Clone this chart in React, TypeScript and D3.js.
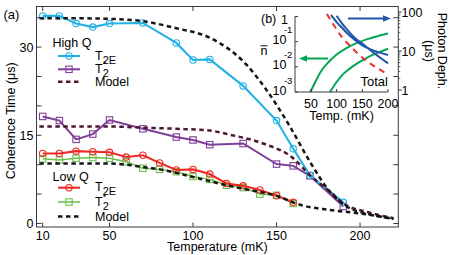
import React from 'react';
import * as d3 from 'd3';

const W = 467;
const H = 255;
const FONT = '"Liberation Sans", Arial, Helvetica, sans-serif';

// panel (a) data, temperatures in mK, times in us
const highTemps = [10, 20, 30, 40, 50, 70, 90, 100, 110, 130, 150, 160, 170, 190];
const highT2E = [35.3, 35.3, 34.0, 33.4, 34.0, 34.1, 30.7, 27.8, 27.9, 23.4, 17.5, 12.7, 8.2, 3.6];
const highT2star = [18.2, 17.5, 14.3, 15.2, 17.6, 16.1, 14.7, 14.2, 13.4, 13.6, 10.1, 9.8, 8.1, 2.9];

const lowTemps = [10, 20, 30, 40, 50, 60, 70, 80, 90, 100, 110, 120, 130, 140, 150, 160];
const lowT2E = [11.9, 11.9, 12.3, 12.2, 12.1, 11.3, 11.6, 10.3, 9.1, 9.2, 8.4, 6.8, 6.4, 5.7, 4.7, 3.6];
const lowT2star = [11.0, 10.8, 11.1, 11.2, 11.1, 10.5, 9.4, 9.2, 8.8, 8.0, 7.5, 6.5, 6.1, 5.0, 4.8, 3.4];

const highModelTemps = [8, 30, 50, 70, 90, 110, 132, 144, 158, 170, 182, 192, 205, 220];
const highModelVals = [34.9, 34.9, 34.8, 34.4, 33.2, 31.6, 27.0, 22.7, 16.5, 10.5, 5.4, 2.9, 1.6, 0.8];
const starModelTemps = [8, 50, 70, 90, 110, 122, 142, 160, 170, 182, 190, 205, 220];
const starModelVals = [16.5, 16.5, 16.3, 16.1, 15.8, 15.1, 13.6, 11.1, 8.2, 5.4, 3.4, 1.9, 0.9];
const lowModelTemps = [8, 50, 60, 70, 80, 90, 100, 110, 120, 130, 150, 165, 182, 200, 220];
const lowModelVals = [10.2, 10.2, 10.0, 9.6, 9.2, 8.6, 7.9, 7.2, 6.5, 5.9, 4.7, 3.1, 2.3, 1.7, 0.8];

const xTicks = [10, 50, 100, 150, 200];
const yTicks = [0, 5, 10, 15, 20, 25, 30, 35];
const yLabelled = [0, 15, 30];

// panel (b) inset data
const nUpperTemps = [49, 58, 70, 85, 100, 120, 140, 160, 180, 200];
const nUpper = [0.001, 0.0024, 0.0068, 0.016, 0.031, 0.057, 0.089, 0.126, 0.165, 0.21];
const nLowerTemps = [87, 100, 110, 125, 137, 150, 169, 185, 200];
const nLower = [0.001, 0.0025, 0.0045, 0.0083, 0.0125, 0.018, 0.029, 0.04, 0.052];
const deph1Temps = [89, 100, 110, 120, 135, 150, 170, 200];
const deph1 = [84, 55, 40, 29, 19.5, 14, 10.5, 7.9];
const deph2Temps = [100, 110, 120, 135, 150, 170, 185, 200];
const deph2 = [80, 52, 36, 22, 15.5, 9.5, 6.7, 4.8];
const totalTemps = [81, 95, 110, 125, 136, 150, 165, 180, 200];
const totalDeph = [89, 45, 23, 14, 10, 6.8, 4.8, 3.6, 2.5];

const insetXTicks = [50, 100, 150, 200];
const nTicks = [1, 0.1, 0.01, 0.001];
const nTickExp = ['', '-1', '-2', '-3'];
const dephTicks = [1, 10, 100];

const C = {
  cyan: '#22b2e4',
  purple: '#7f3f98',
  red: '#ee2a24',
  green: '#6cbf4a',
  maroon: '#4a1832',
  black: '#161616',
  frame: '#3a3a3a',
  igreen: '#00a651',
  iblue: '#1f56a6',
  ired: '#ef3030',
};

const x = d3.scaleLinear().domain([6.3, 222.9]).range([36.5, 398.3]);
const y = d3.scaleLinear().domain([-0.6, 36.9]).range([227, 6.5]);

const ix = d3.scaleLinear().domain([19, 200]).range([295, 388]);
const iy = d3.scaleLog().domain([0.001, 1]).range([92, 16.5]);
const ry = d3.scaleLog().domain([1, 100]).range([90, 12]);

const zip = (a: number[], b: number[]) => a.map((t, i) => [t, b[i]] as [number, number]);

const dataLine = d3.line<[number, number]>().x(d => x(d[0])).y(d => y(d[1]));
const modelLine = d3
  .line<[number, number]>()
  .x(d => x(d[0]))
  .y(d => y(d[1]))
  .curve(d3.curveMonotoneX);
const nLine = d3
  .line<[number, number]>()
  .x(d => ix(d[0]))
  .y(d => iy(d[1]))
  .curve(d3.curveMonotoneX);
const rLine = d3
  .line<[number, number]>()
  .x(d => ix(d[0]))
  .y(d => ry(d[1]))
  .curve(d3.curveMonotoneX);

const Circle = ({ cx, cy, color }: any) => (
  <circle cx={cx} cy={cy} r={3.2} fill="none" stroke={color} strokeWidth={1.1} />
);
const Square = ({ cx, cy, color }: any) => (
  <rect x={cx - 3.2} y={cy - 3.2} width={6.4} height={6.4} fill="none" stroke={color} strokeWidth={1.1} />
);

const Series = ({ temps, vals, color, marker, width }: any) => {
  const pts = zip(temps, vals);
  const M = marker === 'circle' ? Circle : Square;
  return (
    <g>
      <path d={dataLine(pts) || ''} fill="none" stroke={color} strokeWidth={width} />
      {pts.map((p, i) => (
        <M key={i} cx={x(p[0])} cy={y(p[1])} color={color} />
      ))}
    </g>
  );
};

const Model = ({ temps, vals, color }: any) => (
  <path
    d={modelLine(zip(temps, vals)) || ''}
    fill="none"
    stroke={color}
    strokeWidth={2.5}
    strokeDasharray="4.5 3.5"
  />
);

const LegendBlock = ({ title, titleY, rows }: any) => (
  <g>
    <text x={52.5} y={titleY} fontSize={12.5}>
      {title}
    </text>
    {rows.map((r: any, i: number) => (
      <g key={i}>
        {r.kind === 'model' ? (
          <line x1={58} x2={80} y1={r.y} y2={r.y} stroke={r.color} strokeWidth={2.5} strokeDasharray="4.5 3.5" />
        ) : (
          <line x1={58} x2={80} y1={r.y} y2={r.y} stroke={r.color} strokeWidth={r.width} />
        )}
        {r.kind === 'circle' && <Circle cx={69} cy={r.y} color={r.color} />}
        {r.kind === 'square' && <Square cx={69} cy={r.y} color={r.color} />}
        {r.kind === 'model' && (
          <text x={95} y={r.y + 4.5} fontSize={12.5}>
            Model
          </text>
        )}
        {r.kind === 'circle' && (
          <text x={95} y={r.y + 3.5} fontSize={12.5}>
            T<tspan dy={4} fontSize={11}>2E</tspan>
          </text>
        )}
        {r.kind === 'square' && (
          <text x={95} y={r.y + 3.5} fontSize={12.5}>
            T<tspan dy={4} fontSize={11}>2</tspan>
            <tspan dx={-6} dy={-10} fontSize={9}>*</tspan>
          </text>
        )}
      </g>
    ))}
  </g>
);

export default function App() {
  const [x0, x1] = x.range();
  const [y0, y1] = y.range();
  const iLeft = ix.range()[0];
  const iRight = ix.range()[1];
  const iBottom = iy.range()[0];
  const iTop = iy.range()[1];

  const minorDeph: number[] = [];
  [1, 10].forEach(dec => {
    for (let k = 2; k <= 9; k++) minorDeph.push(dec * k);
  });

  return (
    <div>
      <style>{`body{margin:0}`}</style>
      <svg width={W} height={H} fontFamily={FONT} style={{ display: 'block', background: '#fff' }}>
        {/* panel label */}
        <text x={3.5} y={18.5} fontSize={13}>
          (a)
        </text>

        {/* data */}
        <Series temps={lowTemps} vals={lowT2star} color={C.green} marker="square" width={1.5} />
        <Series temps={lowTemps} vals={lowT2E} color={C.red} marker="circle" width={2.1} />
        <Series temps={highTemps} vals={highT2star} color={C.purple} marker="square" width={2} />
        <Series temps={highTemps} vals={highT2E} color={C.cyan} marker="circle" width={2.1} />

        {/* models */}
        <Model temps={lowModelTemps} vals={lowModelVals} color={C.black} />
        <Model temps={starModelTemps} vals={starModelVals} color={C.maroon} />
        <Model temps={highModelTemps} vals={highModelVals} color={C.black} />

        {/* frame */}
        <rect x={x0} y={y1} width={x1 - x0} height={y0 - y1} fill="none" stroke={C.frame} strokeWidth={1} />
        {xTicks.map(t => (
          <g key={t}>
            <line x1={x(t)} x2={x(t)} y1={y0} y2={y0 - 4.5} stroke={C.frame} />
            <line x1={x(t)} x2={x(t)} y1={y1} y2={y1 + 4.5} stroke={C.frame} />
            <text x={x(t)} y={240} fontSize={12.5} textAnchor="middle">
              {t}
            </text>
          </g>
        ))}
        {yTicks.map(t => (
          <g key={t}>
            <line x1={x0} x2={x0 + 5} y1={y(t)} y2={y(t)} stroke={C.frame} />
            <line x1={x1} x2={x1 - 5} y1={y(t)} y2={y(t)} stroke={C.frame} />
          </g>
        ))}
        {yLabelled.map(t => (
          <text key={t} x={33.5} y={y(t) + 4.5} fontSize={12.5} textAnchor="end">
            {t}
          </text>
        ))}
        <text x={(x0 + x1) / 2} y={251} fontSize={12.5} textAnchor="middle">
          Temperature (mK)
        </text>
        <text
          transform={`translate(14.5,${(y0 + y1) / 2 + 4}) rotate(-90)`}
          fontSize={12.5}
          textAnchor="middle"
        >
          Coherence Time (μs)
        </text>

        {/* legends */}
        <LegendBlock
          title="High Q"
          titleY={46.5}
          rows={[
            { kind: 'circle', y: 56, color: C.cyan, width: 2.1 },
            { kind: 'square', y: 69.3, color: C.purple, width: 2 },
            { kind: 'model', y: 81.7, color: C.maroon },
          ]}
        />
        <LegendBlock
          title="Low Q"
          titleY={180.7}
          rows={[
            { kind: 'circle', y: 187.7, color: C.red, width: 2.1 },
            { kind: 'square', y: 202, color: C.green, width: 1.5 },
            { kind: 'model', y: 216.5, color: C.black },
          ]}
        />

        {/* inset (b) */}
        <text x={261} y={22.5} fontSize={12.5}>
          (b)
        </text>
        <path d={nLine(zip(nUpperTemps, nUpper)) || ''} fill="none" stroke={C.igreen} strokeWidth={2} />
        <path d={nLine(zip(nLowerTemps, nLower)) || ''} fill="none" stroke={C.igreen} strokeWidth={2} />
        <path d={rLine(zip(deph1Temps, deph1)) || ''} fill="none" stroke={C.iblue} strokeWidth={2} />
        <path d={rLine(zip(deph2Temps, deph2)) || ''} fill="none" stroke={C.iblue} strokeWidth={2} />
        <path
          d={rLine(zip(totalTemps, totalDeph)) || ''}
          fill="none"
          stroke={C.ired}
          strokeWidth={2}
          strokeDasharray="6 5"
        />
        <text x={iRight} y={85.5} fontSize={13} textAnchor="end">
          Total
        </text>

        {/* arrows */}
        <line x1={348} x2={385} y1={18.5} y2={18.5} stroke={C.iblue} strokeWidth={2} />
        <path d="M391,18.5 L383,15.3 L383,21.7 Z" fill={C.iblue} />
        <line x1={328} x2={305} y1={58.5} y2={58.5} stroke={C.igreen} strokeWidth={2} />
        <path d="M299,58.5 L307,55.3 L307,61.7 Z" fill={C.igreen} />

        {/* inset axes */}
        <line x1={iLeft} x2={iLeft} y1={iTop} y2={iBottom} stroke={C.frame} />
        <line x1={iLeft} x2={iRight} y1={iBottom} y2={iBottom} stroke={C.frame} />
        {nTicks.map((t, i) => (
          <g key={t}>
            <line x1={iLeft} x2={iLeft + 3} y1={iy(t)} y2={iy(t)} stroke={C.frame} />
            {nTickExp[i] === '' ? (
              <text x={288} y={iy(t) + 7.5} fontSize={12.5} textAnchor="end">
                1
              </text>
            ) : (
              <text x={272.5} y={iy(t) + 2.5} fontSize={12.5}>
                10
                <tspan dx={-2.5} dy={-11} fontSize={9.5}>
                  {nTickExp[i]}
                </tspan>
              </text>
            )}
          </g>
        ))}
        <text x={264} y={55} fontSize={12.5} textAnchor="middle">
          n
        </text>
        <line x1={260.5} x2={267.5} y1={45.8} y2={45.8} stroke="#000" strokeWidth={0.9} />
        {insetXTicks.map(t => (
          <g key={t}>
            <line x1={ix(t)} x2={ix(t)} y1={iBottom} y2={iBottom - 3} stroke={C.frame} />
            <text x={ix(t)} y={107.5} fontSize={12.5} textAnchor="middle">
              {t}
            </text>
          </g>
        ))}
        <text x={(iLeft + iRight) / 2} y={119.5} fontSize={12.5} textAnchor="middle">
          Temp. (mK)
        </text>

        {/* right axis for photon dephasing */}
        {dephTicks.map(t => (
          <g key={t}>
            <line x1={x1} x2={x1 + 3.5} y1={ry(t)} y2={ry(t)} stroke={C.frame} />
            <text x={401.5} y={ry(t) + 4.5} fontSize={12.5}>
              {t}
            </text>
          </g>
        ))}
        {minorDeph.map(t => (
          <line key={t} x1={x1} x2={x1 + 2} y1={ry(t)} y2={ry(t)} stroke={C.frame} strokeWidth={0.8} />
        ))}
        <text transform={`translate(437.5,51) rotate(90)`} fontSize={12.5} textAnchor="middle">
          Photon Deph.
        </text>
        <text transform={`translate(424.5,51) rotate(90)`} fontSize={12.5} textAnchor="middle">
          (μs)
        </text>
      </svg>
    </div>
  );
}
